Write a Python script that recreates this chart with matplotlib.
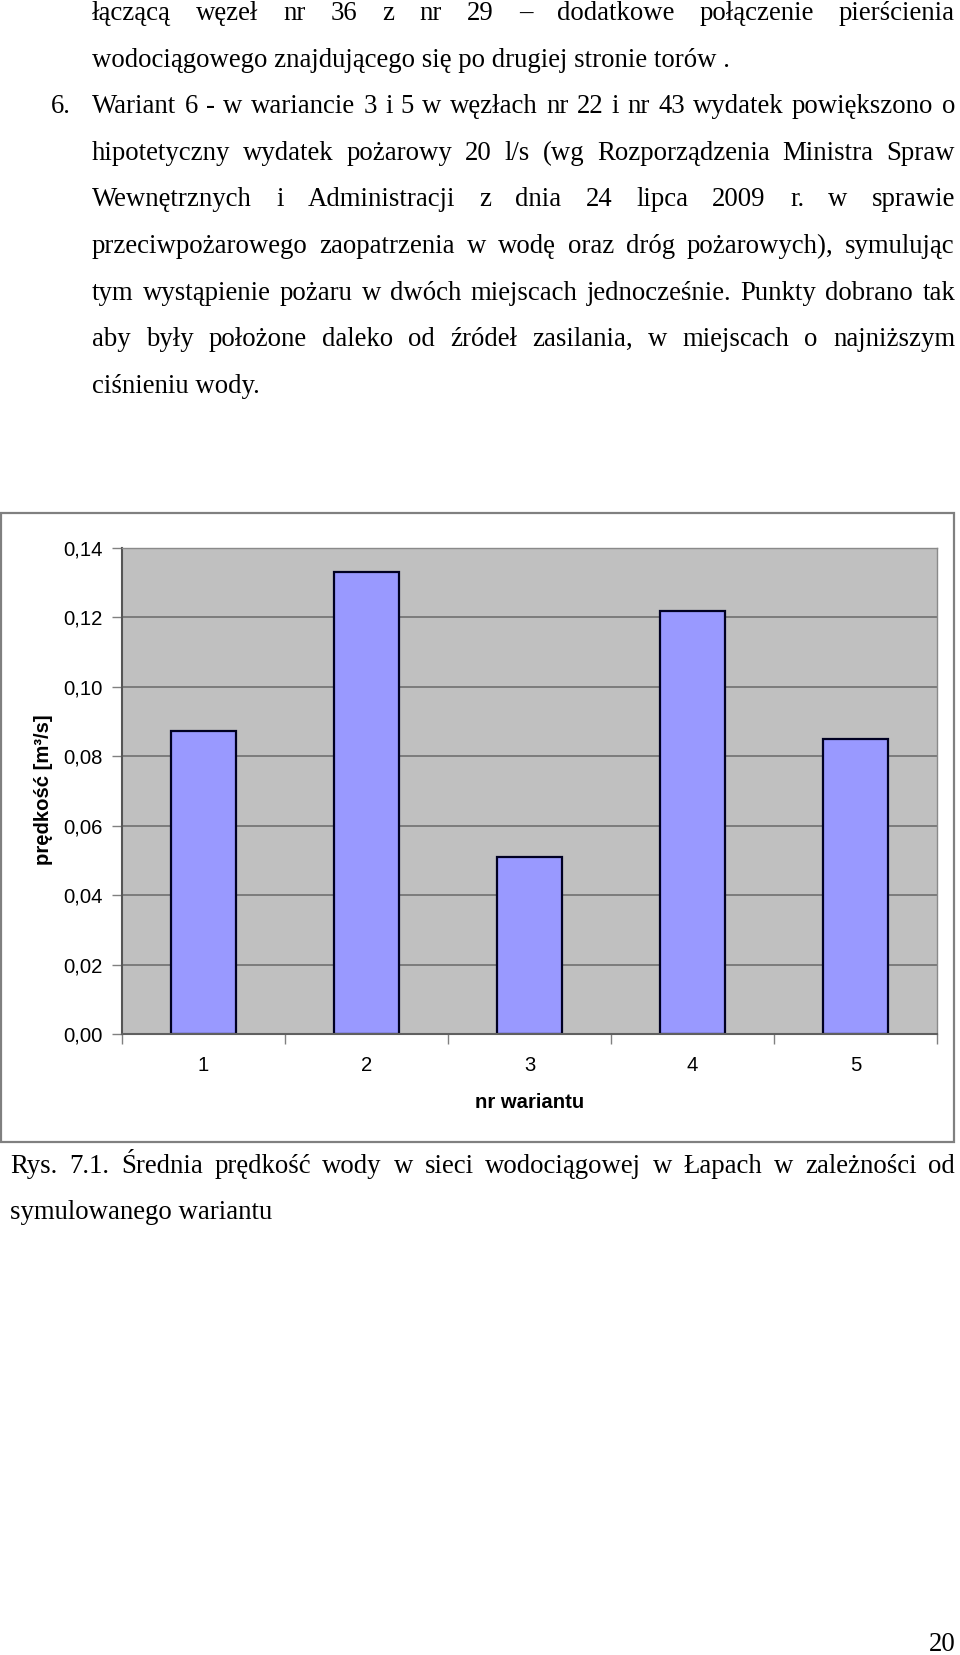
import matplotlib
matplotlib.use('Agg')
import matplotlib.pyplot as plt
from matplotlib.patches import Rectangle
from matplotlib.ticker import FixedLocator

W, H = 960, 1655

# ---- data ----
variants = ['1', '2', '3', '4', '5']
velocity = [0.0872, 0.1330, 0.0509, 0.1219, 0.0851]
ytick_values = [0.00, 0.02, 0.04, 0.06, 0.08, 0.10, 0.12, 0.14]
ytick_labels = ['0,00', '0,02', '0,04', '0,06', '0,08', '0,10', '0,12', '0,14']
x_title = 'nr wariantu'
y_title = 'prędkość [m³/s]'

body_lines = [
    ('łączącą węzeł nr 36 z nr 29 – dodatkowe połączenie pierścienia', True),
    ('wodociągowego znajdującego się po drugiej stronie torów .', False),
    ('Wariant 6 - w wariancie 3 i 5 w węzłach nr 22 i nr 43 wydatek powiększono o', True),
    ('hipotetyczny wydatek pożarowy 20 l/s (wg Rozporządzenia Ministra Spraw', True),
    ('Wewnętrznych i Administracji z dnia 24 lipca 2009 r. w sprawie', True),
    ('przeciwpożarowego zaopatrzenia w wodę oraz dróg pożarowych), symulując', True),
    ('tym wystąpienie pożaru w dwóch miejscach jednocześnie. Punkty dobrano tak', True),
    ('aby były położone daleko od źródeł zasilania, w miejscach o najniższym', True),
    ('ciśnieniu wody.', False),
]
list_number = '6.'
caption_lines = [
    ('Rys. 7.1. Średnia prędkość wody w sieci wodociągowej w Łapach w zależności od', True),
    ('symulowanego wariantu', False),
]
page_number = '20'

fig = plt.figure(figsize=(W / 100, H / 100), dpi=100)
fig.patch.set_facecolor('white')
renderer = fig.canvas.get_renderer()

SERIF = 'Liberation Serif'
SANS = 'Liberation Sans'
CHART_FS = 14.6


def fx(x):
    return x / W


def fy(y):
    return 1 - y / H


# calibrate body font size on a non-justified line
probe = fig.text(0, 0, body_lines[1][0], family=SERIF, fontsize=19)
pw = probe.get_window_extent(renderer).width
probe.remove()
body_size = 19 * 637 / pw


def draw_line(text, x0, x1, ybase, justify, size):
    if not justify:
        fig.text(fx(x0), fy(ybase), text, family=SERIF, fontsize=size,
                 va='baseline', ha='left', color='black')
        return
    words = text.split(' ')
    objs = [fig.text(0, fy(ybase), w, family=SERIF, fontsize=size,
                     va='baseline', ha='left', color='black') for w in words]
    widths = [o.get_window_extent(renderer).width for o in objs]
    gap = (x1 - x0 - sum(widths)) / (len(words) - 1)
    x = x0
    for o, w in zip(objs, widths):
        o.set_x(fx(x))
        x += w + gap


base0 = 20.0
step = 46.6
for i, (line, just) in enumerate(body_lines):
    draw_line(line, 92, 955, base0 + i * step, just, body_size)
fig.text(fx(51), fy(base0 + 2 * step), list_number, family=SERIF,
         fontsize=body_size, va='baseline', ha='left')

for i, (line, just) in enumerate(caption_lines):
    draw_line(line, 10.5, 955, 1173 + i * 46.3, just, body_size)

fig.text(fx(956), fy(1651), page_number, family=SERIF, fontsize=body_size,
         va='baseline', ha='right')

# ---- chart frame ----
fig.patches.append(Rectangle((fx(1), fy(1142)), fx(954) - fx(1), fy(513) - fy(1142),
                             transform=fig.transFigure, fill=False,
                             edgecolor='#808080', lw=1.6))

# ---- axes ----
L, R, T, B = 122, 937, 548, 1034
ax = fig.add_axes([fx(L), fy(B), fx(R) - fx(L), fy(T) - fy(B)])
ax.set_facecolor('#C0C0C0')
xpos = list(range(len(variants)))
ax.bar(xpos, velocity, width=0.4, color='#9999FF', edgecolor='#000022',
       linewidth=1.6, zorder=3)
ax.set_xlim(-0.5, len(variants) - 0.5)
ax.set_ylim(ytick_values[0], ytick_values[-1])
ax.set_yticks(ytick_values)
ax.set_yticklabels(ytick_labels, family=SANS, fontsize=CHART_FS)
ax.set_xticks(xpos)
ax.set_xticklabels(variants, family=SANS, fontsize=CHART_FS)
ax.xaxis.set_minor_locator(FixedLocator([i - 0.5 for i in range(len(variants) + 1)]))
ax.tick_params(axis='x', which='major', length=0, pad=16)
ax.tick_params(axis='x', which='minor', length=7, width=1, color='#808080', direction='out')
ax.tick_params(axis='y', which='major', length=7, width=1, color='#808080', direction='out', pad=7)
ax.grid(axis='y', color='#707070', lw=1.2, zorder=1)
ax.set_axisbelow(True)
for s in ['top', 'right']:
    ax.spines[s].set_color('#8a8a8a')
    ax.spines[s].set_linewidth(1.0)
ax.spines['left'].set_color('#555555')
ax.spines['left'].set_linewidth(1.5)
ax.spines['bottom'].set_color('#606060')
ax.spines['bottom'].set_linewidth(1.5)
ax.spines['bottom'].set_zorder(4)

fig.text(fx((L + R) / 2), fy(1103), x_title, family=SANS, fontsize=CHART_FS,
         fontweight='bold', ha='center', va='center')
fig.text(fx(44), fy(790), y_title, family=SANS, fontsize=CHART_FS,
         fontweight='bold', ha='center', va='center', rotation=90)

fig.savefig('out.png', dpi=100, facecolor='white')
